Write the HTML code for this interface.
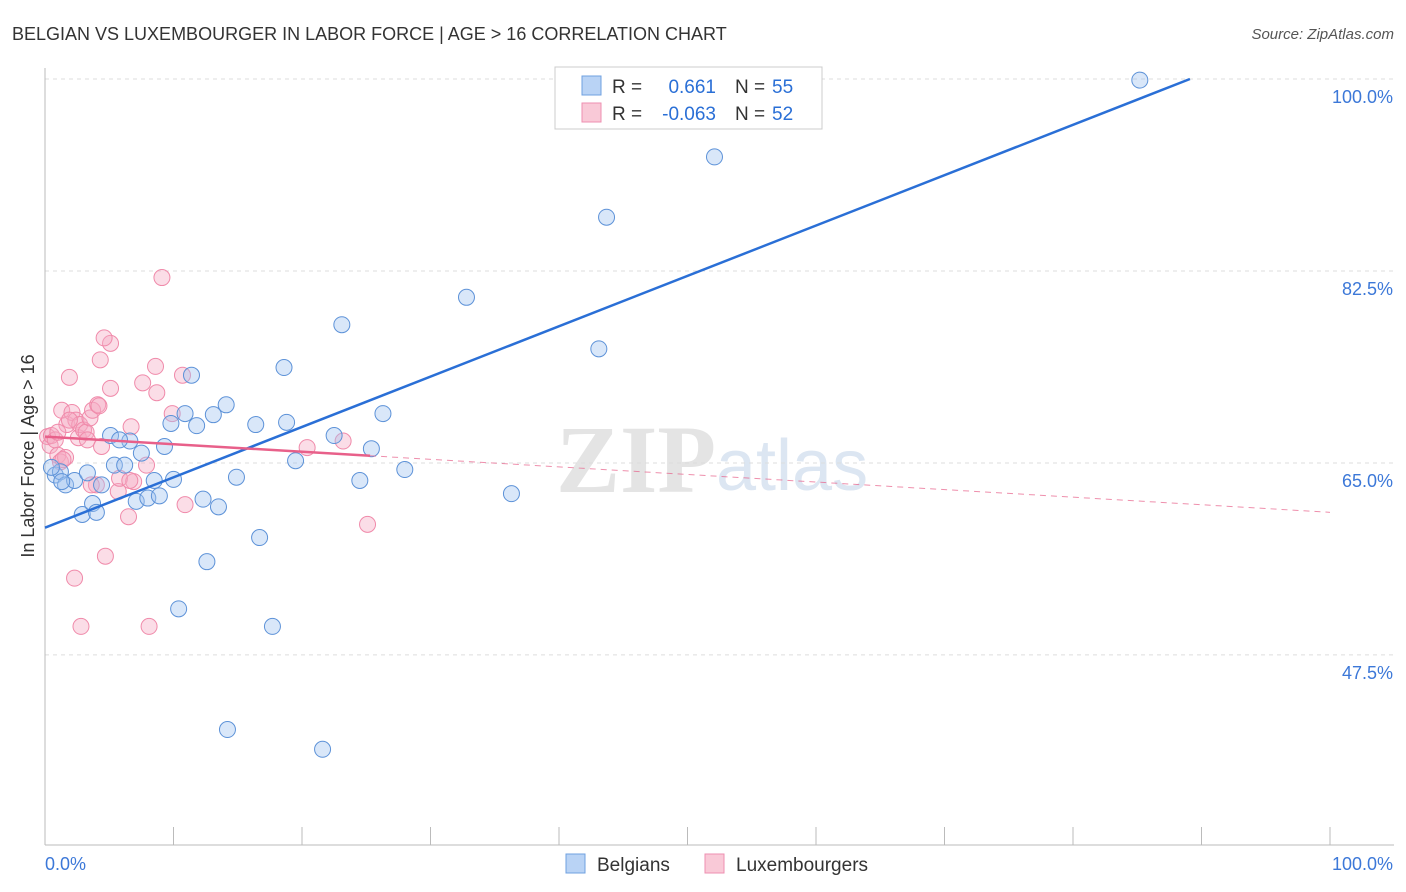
<!DOCTYPE html>
<html><head><meta charset="utf-8">
<style>
body{margin:0;background:#fff;font-family:"Liberation Sans",sans-serif;}
#wrap{position:relative;width:1406px;height:892px;overflow:hidden;}
</style></head>
<body>
<div id="wrap">
<svg id="svg" width="1406" height="892" xmlns="http://www.w3.org/2000/svg">
<text x="12" y="40" font-size="18" fill="#333">BELGIAN VS LUXEMBOURGER IN LABOR FORCE | AGE &gt; 16 CORRELATION CHART</text>
<text x="1394" y="39" font-size="15" fill="#555" font-style="italic" text-anchor="end">Source: ZipAtlas.com</text>
<text x="716" y="492" font-size="96" fill="#e4e4e4" text-anchor="end" font-family="Liberation Serif" font-weight="bold">ZIP</text>
<text x="716" y="490" font-size="72" fill="#dce6f2">atlas</text>
<text transform="translate(34,456) rotate(-90)" font-size="18" fill="#333" text-anchor="middle">In Labor Force | Age &gt; 16</text>
<g id="grid"></g><g id="pts"></g><g id="lines"></g>
<g>
<rect x="555" y="67" width="267" height="62" fill="#fff" stroke="#ccc"/>
<rect x="582" y="76" width="19" height="19" fill="#b9d3f5" stroke="#6fa0e0"/>
<rect x="582" y="103" width="19" height="19" fill="#f9c9d7" stroke="#ee8fb0"/>
<text x="612" y="93" font-size="19" fill="#333">R =</text>
<text x="716" y="93" font-size="19" fill="#2a6fd6" text-anchor="end">0.661</text>
<text x="735" y="93" font-size="19" fill="#333">N =</text>
<text x="772" y="93" font-size="19" fill="#2a6fd6">55</text>
<text x="612" y="120" font-size="19" fill="#333">R =</text>
<text x="716" y="120" font-size="19" fill="#2a6fd6" text-anchor="end">-0.063</text>
<text x="735" y="120" font-size="19" fill="#333">N =</text>
<text x="772" y="120" font-size="19" fill="#2a6fd6">52</text>
</g>
<g>
<rect x="566" y="854" width="19" height="19" fill="#b9d3f5" stroke="#6fa0e0"/>
<text x="597" y="871" font-size="19" fill="#333">Belgians</text>
<rect x="705" y="854" width="19" height="19" fill="#f9c9d7" stroke="#ee8fb0"/>
<text x="736" y="871" font-size="19" fill="#333">Luxembourgers</text>
</g>
<text x="45" y="870" font-size="18" fill="#3c78d8">0.0%</text>
<text x="1393" y="870" font-size="18" fill="#3c78d8" text-anchor="end">100.0%</text>
</svg>
</div>
<script>
const yTicks=[100,82.5,65,47.5];
const yTickLabels=["100.0%","82.5%","65.0%","47.5%"];
const belX=[0.8,1.2,1.6,2.3,2.9,3.3,3.7,4.0,4.4,5.1,5.4,6.2,6.6,7.1,7.5,8.0,8.5,8.9,9.3,9.8,10.0,10.4,10.9,11.4,11.8,12.3,12.6,13.1,13.5,14.1,14.2,14.9,16.4,16.7,17.7,18.6,18.8,19.5,21.6,22.5,23.1,24.5,25.4,26.3,28.0,32.8,36.3,43.1,43.7,48.8,52.1,85.2,0.5,1.3,5.8];
const belY=[63.9,64.2,63.0,63.4,60.3,64.1,61.3,60.5,63.0,67.5,64.8,64.8,67.0,61.5,65.9,61.8,63.4,62.0,66.5,68.6,63.5,51.7,69.5,73.0,68.4,61.7,56.0,69.4,61.0,70.3,40.7,63.7,68.5,58.2,50.1,73.7,68.7,65.2,38.9,67.5,77.6,63.4,66.3,69.5,64.4,80.1,62.2,75.4,87.4,99.9,92.9,99.9,64.6,63.3,67.1];
const luxX=[0.2,0.4,0.5,0.8,1.0,1.2,1.3,1.6,1.7,1.9,2.1,2.3,2.4,2.6,2.7,2.8,3.0,3.2,3.3,3.5,3.7,4.0,4.1,4.2,4.3,4.4,4.7,5.1,5.1,4.6,5.7,5.8,6.5,6.7,6.9,7.6,7.9,8.1,8.6,8.7,9.1,9.9,10.7,10.9,20.4,23.2,25.1,1.0,1.4,1.9,3.6,6.6];
const luxY=[67.4,66.6,67.5,67.1,65.7,65.1,69.8,65.5,68.5,72.8,69.6,54.5,68.9,67.3,68.5,50.1,68.0,67.8,67.1,69.1,69.8,63.0,70.3,70.2,74.4,66.5,56.5,71.8,75.9,76.4,62.4,63.6,60.1,68.3,63.3,72.3,64.8,50.1,73.8,71.4,81.9,69.5,73.0,61.2,66.4,67.0,59.4,67.8,65.3,68.9,63.0,63.4];
const belTrend=[0,59.1,89.1,100];
const luxTrend=[0,67.4,100,60.5];
const luxSolidEnd=25.3;
const X=v=>45+v*12.85, Y=v=>79+(100-v)*10.97;
const NS="http://www.w3.org/2000/svg";
function mk(t,a,p){const e=document.createElementNS(NS,t);for(const k in a)e.setAttribute(k,a[k]);p.appendChild(e);return e;}
const grid=document.getElementById('grid');
yTicks.forEach((v,i)=>{
 const l=mk('line',{x1:45,x2:1394,y1:Y(v),y2:Y(v),stroke:'#ddd','stroke-dasharray':'4,4'},grid);
 
 
 const t=mk('text',{x:1393,y:Y(v)+24,'font-size':18,fill:'#3c78d8','text-anchor':'end'},grid);
 t.textContent=yTickLabels[i];
 
 
});
mk('line',{x1:45,x2:45,y1:68,y2:845,stroke:'#bbb'},grid);
mk('line',{x1:45,x2:1394,y1:845,y2:845,stroke:'#bbb'},grid);
for(let i=0;i<=10;i++){const tk=mk('line',{x1:X(i*10),x2:X(i*10),y1:827,y2:845,stroke:'#bbb'},grid);
 
 }
const pts=document.getElementById('pts');
luxX.forEach((x,i)=>{const c=mk('circle',{cx:X(x),cy:Y(luxY[i]),r:8,fill:'rgba(246,170,195,0.4)',stroke:'#f08aaa','stroke-width':1},pts);
 
 });
belX.forEach((x,i)=>{const c=mk('circle',{cx:X(x),cy:Y(belY[i]),r:8,fill:'rgba(160,196,240,0.4)',stroke:'#5d92d8','stroke-width':1},pts);
 
 });
const lines=document.getElementById('lines');
const bl=mk('line',{x1:X(belTrend[0]),y1:Y(belTrend[1]),x2:X(belTrend[2]),y2:Y(belTrend[3]),stroke:'#2a6fd6','stroke-width':2.5},lines);


const ly=x=>luxTrend[1]+(luxTrend[3]-luxTrend[1])*x/100;
const l1=mk('line',{x1:X(0),y1:Y(ly(0)),x2:X(luxSolidEnd),y2:Y(ly(luxSolidEnd)),stroke:'#e8608a','stroke-width':2.5},lines);


const l2=mk('line',{x1:X(luxSolidEnd),y1:Y(ly(luxSolidEnd)),x2:X(100),y2:Y(ly(100)),stroke:'#e8608a','stroke-width':1,'stroke-dasharray':'6,5',opacity:0.7},lines);


</script>
</body></html>
